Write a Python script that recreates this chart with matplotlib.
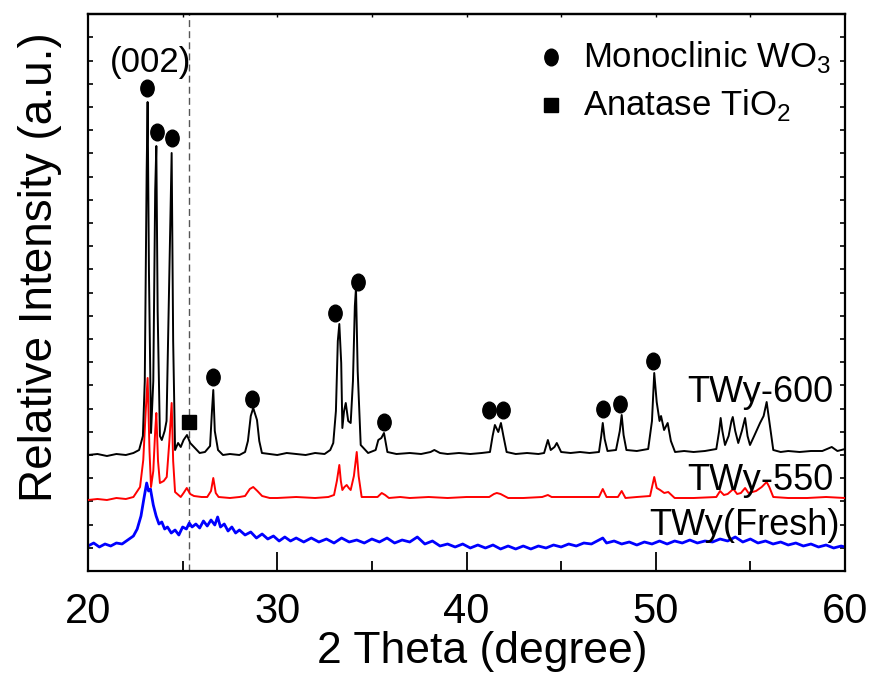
import matplotlib
matplotlib.use('Agg')
import matplotlib.pyplot as plt
from matplotlib.markers import MarkerStyle
from matplotlib.ticker import MultipleLocator
from matplotlib.transforms import Affine2D

plt.rcParams['font.family'] = ['Liberation Sans', 'DejaVu Sans']
plt.rcParams['mathtext.fontset'] = 'custom'
plt.rcParams['mathtext.rm'] = 'Liberation Sans'

# TWy-600 pattern (2 theta, intensity a.u.)
tw600_x = [20.0, 20.5, 21.0, 21.5, 22.0, 22.4, 22.7, 22.9, 23.0, 23.1, 23.15, 23.22, 23.33, 23.45,
           23.55, 23.61, 23.68, 23.8, 23.9, 24.05, 24.15, 24.3, 24.42, 24.5, 24.6, 24.76, 24.9,
           25.05, 25.23, 25.4, 25.65, 25.9, 26.18, 26.45, 26.55, 26.62, 26.7, 26.87, 27.13, 27.5,
           28.0, 28.3, 28.45, 28.6, 28.73, 28.93, 29.05, 29.19, 29.6, 30.0, 30.5, 31.0, 31.5, 32.0,
           32.5, 32.8, 32.96, 33.1, 33.2, 33.28, 33.38, 33.44, 33.53, 33.62, 33.75, 33.88, 34.0,
           34.1, 34.16, 34.25, 34.41, 34.8, 35.2, 35.34, 35.5, 35.64, 35.82, 36.3, 37.0, 37.6,
           38.1, 38.3, 38.6, 39.0, 39.6, 40.2, 40.8, 41.24, 41.38, 41.5, 41.68, 41.82, 41.95,
           42.12, 42.6, 43.2, 43.8, 44.1, 44.3, 44.45, 44.65, 44.77, 45.0, 45.5, 46.0, 46.5, 47.0,
           47.12, 47.2, 47.3, 47.45, 47.9, 48.1, 48.2, 48.3, 48.45, 49.0, 49.6, 49.8, 49.92, 50.05,
           50.2, 50.28, 50.44, 50.63, 50.8, 51.02, 51.5, 52.0, 52.6, 53.2, 53.35, 53.43, 53.52,
           53.66, 53.85, 54.0, 54.07, 54.2, 54.36, 54.55, 54.72, 54.85, 54.98, 55.2, 55.51, 55.7,
           55.86, 56.0, 56.21, 56.6, 57.0, 57.6, 58.2, 58.8, 59.3, 59.6, 60.0]
tw600_y = [116, 117, 115, 117, 116, 118, 121, 135, 190, 400, 469, 300, 138, 190,
           380, 425, 260, 135, 131, 140, 150, 300, 418, 230, 121, 128, 124,
           131, 136, 128, 123, 118, 119, 125, 160, 181, 140, 121, 116, 117,
           116, 119, 130, 155, 163, 151, 130, 118, 117, 116, 118, 117, 116, 118,
           117, 121, 128, 160, 230, 247, 208, 143, 160, 168, 150, 148, 190,
           265, 283, 200, 126, 118, 121, 131, 133, 138, 119, 117, 118, 117,
           119, 121, 118, 117, 118, 117, 118, 119, 135, 146, 139, 148, 135,
           119, 117, 118, 117, 118, 131, 121, 124, 128, 119, 118, 119, 118, 119,
           135, 148, 132, 120, 121, 140, 156, 136, 121, 120, 122, 150, 198, 169,
           150, 155, 141, 148, 130, 119, 120, 119, 120, 122, 140, 153, 140,
           126, 135, 150, 154, 140, 128, 140, 153, 135, 126, 135, 148, 155,
           169, 150, 121, 119, 120, 119, 120, 120, 124, 120, 122]

# TWy-550 pattern
tw550_x = [20.0, 20.5, 21.0, 21.5, 22.0, 22.4, 22.75, 22.92, 23.05, 23.15, 23.25, 23.33, 23.45,
           23.55, 23.61, 23.7, 23.8, 24.0, 24.16, 24.3, 24.42, 24.5, 24.6, 24.9, 25.05, 25.22,
           25.4, 25.6, 26.0, 26.3, 26.5, 26.62, 26.75, 26.9, 27.5, 28.0, 28.3, 28.55, 28.73,
           28.95, 29.2, 29.6, 30.0, 31.0, 32.0, 32.7, 33.0, 33.15, 33.28, 33.36, 33.44, 33.55,
           33.67, 33.78, 33.88, 34.05, 34.2, 34.3, 34.46, 35.0, 35.3, 35.52, 35.7, 35.9, 36.5,
           37.0, 38.0, 39.0, 40.0, 41.2, 41.45, 41.6, 41.8, 42.2, 43.0, 44.0, 44.3, 44.5, 45.5,
           46.5, 47.0, 47.2, 47.4, 48.0, 48.2, 48.4, 49.0, 49.7, 49.92, 50.05, 50.23, 50.45,
           50.66, 51.0, 52.0, 53.2, 53.4, 53.6, 53.8, 54.1, 54.3, 54.5, 54.72, 54.9, 55.3, 55.6,
           55.86, 56.0, 56.21, 57.0, 58.0, 59.0, 60.0]
tw550_y = [71, 72, 71, 73, 72, 74, 84, 111, 160, 193, 120, 84, 100,
           140, 158, 110, 88, 90, 94, 130, 168, 110, 79, 74, 78, 83,
           77, 75, 74, 74, 80, 93, 78, 74, 73, 74, 75, 82, 84,
           80, 75, 73, 73, 74, 73, 74, 76, 90, 106, 90, 81, 84,
           86, 83, 81, 95, 119, 95, 74, 74, 74, 78, 76, 73, 74,
           73, 74, 73, 74, 74, 77, 78, 77, 73, 73, 74, 76, 74, 74,
           74, 74, 82, 74, 74, 80, 73, 74, 75, 94, 83, 81, 78,
           79, 73, 73, 74, 80, 76, 77, 82, 77, 78, 83, 78, 80, 84,
           89, 84, 74, 73, 73, 74, 73]

# TWy(Fresh) pattern
fresh_x = [20.0, 20.3, 20.6, 20.9, 21.2, 21.5, 21.8, 22.1, 22.4, 22.6, 22.8, 22.95, 23.1, 23.2,
           23.3, 23.45, 23.6, 23.75, 23.9, 24.05, 24.2, 24.4, 24.6, 24.8, 25.0, 25.2, 25.35,
           25.5, 25.7, 25.9, 26.1, 26.3, 26.5, 26.7, 26.85, 27.0, 27.2, 27.4, 27.6, 27.8, 28.0,
           28.3, 28.6, 28.9, 29.2, 29.5, 29.8, 30.1, 30.4, 30.7, 31.0, 31.4, 31.8, 32.2, 32.6,
           33.0, 33.4, 33.8, 34.2, 34.6, 35.0, 35.4, 35.8, 36.2, 36.6, 37.0, 37.4, 37.8, 38.2,
           38.6, 39.0, 39.4, 39.8, 40.2, 40.6, 41.0, 41.4, 41.8, 42.2, 42.6, 43.0, 43.4, 43.8,
           44.2, 44.6, 45.0, 45.4, 45.8, 46.2, 46.6, 47.0, 47.2, 47.4, 47.8, 48.2, 48.6, 49.0,
           49.4, 49.8, 50.2, 50.6, 51.0, 51.4, 51.8, 52.2, 52.6, 53.0, 53.4, 53.8, 54.2, 54.6,
           55.0, 55.4, 55.8, 56.2, 56.6, 57.0, 57.4, 57.8, 58.2, 58.6, 59.0, 59.4, 59.8, 60.0]
fresh_y = [25, 28, 24, 27, 25, 28, 27, 31, 35, 42, 55, 72, 88, 80,
           82, 66, 55, 47, 49, 42, 44, 38, 41, 36, 44, 42, 48,
           44, 47, 43, 50, 45, 51, 46, 54, 44, 47, 40, 44, 38, 41,
           36, 39, 33, 37, 32, 35, 30, 34, 30, 33, 29, 33, 29, 32,
           28, 33, 29, 31, 28, 32, 29, 33, 28, 31, 29, 34, 27, 30,
           25, 27, 24, 27, 23, 26, 23, 26, 22, 25, 22, 25, 22, 25,
           23, 26, 24, 27, 25, 28, 27, 31, 33, 28, 30, 27, 29, 26,
           29, 27, 30, 27, 30, 28, 31, 28, 30, 29, 32, 30, 34, 29,
           32, 28, 30, 27, 29, 26, 28, 25, 27, 24, 26, 23, 25, 24]

# phase markers
mono_x = [23.1, 23.65, 24.43, 26.59, 28.68, 33.05, 34.25, 35.64, 41.2, 41.91, 47.2, 48.11, 49.84]
mono_y = [483, 439, 433, 194, 172, 258, 289, 149, 161, 161, 162, 167, 210]
anatase_x = [25.35]
anatase_y = [149]
ref_line = 25.34

fig = plt.figure(figsize=(8.73, 6.73), dpi=100)
ax = fig.add_axes([88 / 873, 102 / 673, 757 / 873, 557 / 673])

ax.axvline(ref_line, color='#555555', lw=1.0, ls=(0, (5, 3)), zorder=1)
ax.plot(fresh_x, fresh_y, color='#0000ff', lw=2.0, zorder=2)
ax.plot(tw550_x, tw550_y, color='#ff0000', lw=1.4, zorder=3)
ax.plot(tw600_x, tw600_y, color='black', lw=1.4, zorder=4)

ellipse = MarkerStyle('o', transform=Affine2D().scale(0.8, 1.0))
ax.plot(mono_x, mono_y, ls='none', marker=ellipse, ms=12, color='black', zorder=5)
ax.plot(anatase_x, anatase_y, ls='none', marker='s', ms=9.5, color='black', zorder=5)

# legend drawn by hand
ax.plot([0.6116], [0.9228], transform=ax.transAxes, ls='none', marker=ellipse, ms=12, color='black')
ax.plot([0.6116], [0.8366], transform=ax.transAxes, ls='none', marker='s', ms=9.5, color='black')
ax.text(0.654, 0.9228, 'Monoclinic WO$_3$', transform=ax.transAxes, fontsize=25, va='center', ha='left')
ax.text(0.654, 0.8366, 'Anatase TiO$_2$', transform=ax.transAxes, fontsize=25, va='center', ha='left')

ax.text(23.33, 499, '(002)', fontsize=25, ha='center', va='baseline')
ax.text(59.37, 169, 'TWy-600', fontsize=26, ha='right', va='baseline')
ax.text(59.37, 81, 'TWy-550', fontsize=26, ha='right', va='baseline')
ax.text(59.74, 36, 'TWy(Fresh)', fontsize=26, ha='right', va='baseline')

ax.set_xlim(20, 60)
ax.set_ylim(0, 557)
ax.xaxis.set_major_locator(MultipleLocator(10))
ax.xaxis.set_minor_locator(MultipleLocator(5))
ax.yaxis.set_major_locator(MultipleLocator(23.2))
ax.tick_params(axis='x', which='major', direction='in', length=14, width=1.3, labelsize=30, pad=15)
ax.tick_params(axis='x', which='minor', direction='in', length=7, width=1.3)
ax.tick_params(axis='y', which='major', direction='in', length=3.5, width=1.2, right=True, labelleft=False)
top = ax.secondary_xaxis('top')
top.set_xticks([25, 30, 35, 40, 45, 50, 55])
top.tick_params(direction='in', length=2.5, width=1.0, labeltop=False)
top.spines['top'].set_linewidth(1.6)
for s in ax.spines.values():
    s.set_linewidth(1.6)

ax.set_xlabel('2 Theta (degree)', fontsize=32)
ax.set_ylabel('Relative Intensity (a.u.)', fontsize=33)
ax.xaxis.set_label_coords(0.521, -0.108)
ax.yaxis.set_label_coords(-0.034, 0.546)

fig.savefig('out.png', dpi=100)
